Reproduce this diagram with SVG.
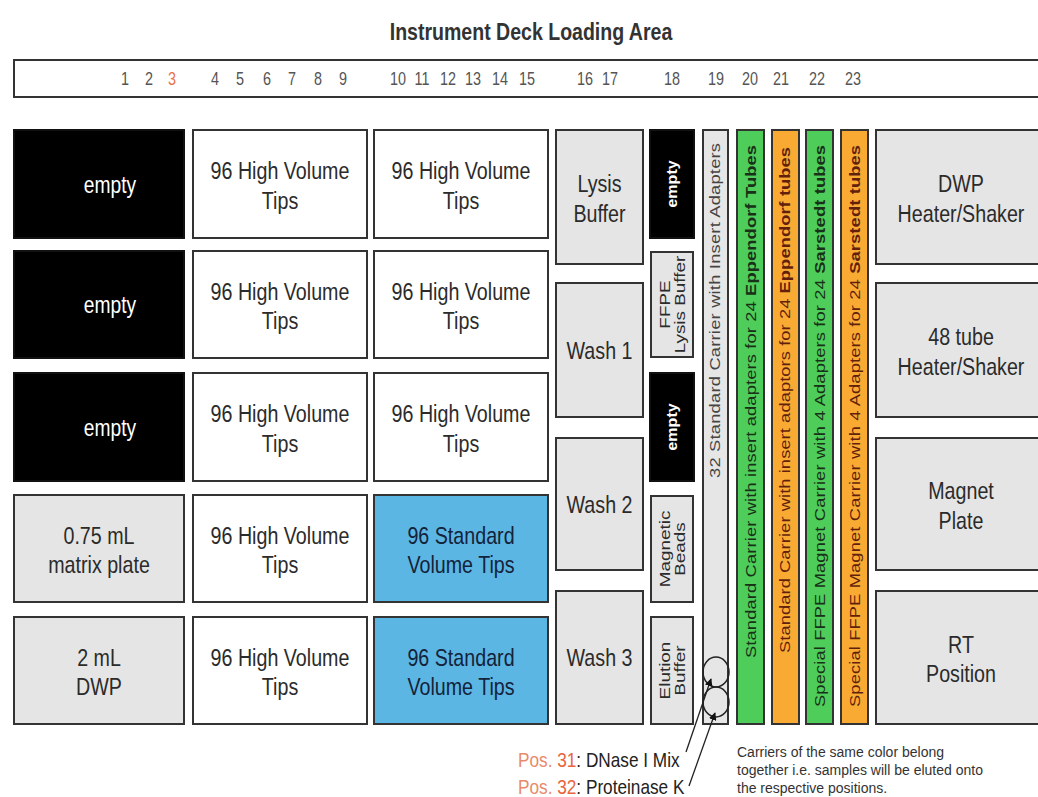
<svg xmlns="http://www.w3.org/2000/svg" width="1038" height="797" viewBox="0 0 1038 797">
<defs>
<style>
.box{stroke:#333;stroke-width:2}
.g{fill:#e5e5e5}.w{fill:#fff}.k{fill:#000;stroke:#111}.b{fill:#5cb6e4}.gr{fill:#4fcd5a}.or{fill:#f9aa33}.lg{fill:#e6e6e6}
.t{font-family:"Liberation Sans",Arial,sans-serif;font-size:24px;fill:#2b2b2b;text-anchor:middle}
.tw{fill:#fff}
.tb{fill:#14233a}
.v{font-family:"Liberation Sans",Arial,sans-serif;font-size:14px;fill:#2b2b2b;text-anchor:middle}
.vw{fill:#fff;font-weight:bold}
.vl{font-family:"Liberation Sans",Arial,sans-serif;font-size:15px;fill:#333}
.vg{fill:#183018}.vo{fill:#621f0c}
.num{font-family:"Liberation Sans",Arial,sans-serif;font-size:18px;fill:#555;text-anchor:middle}
.note{font-family:"Liberation Sans",Arial,sans-serif;font-size:14px;fill:#333}
.pos{font-family:"Liberation Sans",Arial,sans-serif;font-size:21px;fill:#222}
.ln{stroke:#222;stroke-width:1.3;fill:none}
</style>
<marker id="ah" viewBox="0 0 10 10" refX="9" refY="5" markerWidth="6" markerHeight="6" orient="auto"><path d="M0,0 L10,5 L0,10 z" fill="#111"/></marker>
</defs>
<rect width="1038" height="797" fill="#fff"/>
<text transform="translate(531,40) scale(.85 1)" style="font-family:'Liberation Sans',Arial,sans-serif;font-size:23px;font-weight:bold;fill:#333;text-anchor:middle">Instrument Deck Loading Area</text>
<g id="positions">
<rect x="14" y="60" width="1040" height="37" fill="#fff" stroke="#333" stroke-width="2"/>
<g class="num">
<text transform="translate(125,85) scale(.8 1)">1</text>
<text transform="translate(149,85) scale(.8 1)">2</text>
<text transform="translate(172,85) scale(.8 1)" style="fill:#e8734a">3</text>
<text transform="translate(215,85) scale(.8 1)">4</text>
<text transform="translate(240,85) scale(.8 1)">5</text>
<text transform="translate(267,85) scale(.8 1)">6</text>
<text transform="translate(292,85) scale(.8 1)">7</text>
<text transform="translate(318,85) scale(.8 1)">8</text>
<text transform="translate(343,85) scale(.8 1)">9</text>
<text transform="translate(398,85) scale(.8 1)">10</text>
<text transform="translate(422,85) scale(.8 1)">11</text>
<text transform="translate(448,85) scale(.8 1)">12</text>
<text transform="translate(473,85) scale(.8 1)">13</text>
<text transform="translate(500,85) scale(.8 1)">14</text>
<text transform="translate(527,85) scale(.8 1)">15</text>
<text transform="translate(585,85) scale(.8 1)">16</text>
<text transform="translate(610,85) scale(.8 1)">17</text>
<text transform="translate(672,85) scale(.8 1)">18</text>
<text transform="translate(716,85) scale(.8 1)">19</text>
<text transform="translate(750,85) scale(.8 1)">20</text>
<text transform="translate(781,85) scale(.8 1)">21</text>
<text transform="translate(817,85) scale(.8 1)">22</text>
<text transform="translate(853,85) scale(.8 1)">23</text>
</g>
</g>

<!-- Column A -->
<g id="a1"><rect class="box k" x="14" y="130" width="170" height="108"/><text class="t tw" transform="translate(110,192.5) scale(.8 1)">empty</text></g>
<g id="a2"><rect class="box k" x="14" y="251" width="170" height="107"/><text class="t tw" transform="translate(110,313) scale(.8 1)">empty</text></g>
<g id="a3"><rect class="box k" x="14" y="373" width="170" height="108"/><text class="t tw" transform="translate(110,435.5) scale(.8 1)">empty</text></g>
<g id="a4"><rect class="box g" x="14" y="495" width="170" height="107"/><text class="t" transform="translate(99,548.5) scale(.82 1)"><tspan x="0" y="-5">0.75 mL</tspan><tspan x="0" y="25">matrix plate</tspan></text></g>
<g id="a5"><rect class="box g" x="14" y="617" width="170" height="107"/><text class="t" transform="translate(99,670.5) scale(.82 1)"><tspan x="0" y="-5">2 mL</tspan><tspan x="0" y="25">DWP</tspan></text></g>

<!-- Column B -->
<g id="b1"><rect class="box w" x="193" y="130" width="174" height="108"/><text class="t" transform="translate(280,184) scale(.82 1)"><tspan x="0" y="-5">96 High Volume</tspan><tspan x="0" y="25">Tips</tspan></text></g>
<g id="b2"><rect class="box w" x="193" y="251" width="174" height="107"/><text class="t" transform="translate(280,304.5) scale(.82 1)"><tspan x="0" y="-5">96 High Volume</tspan><tspan x="0" y="25">Tips</tspan></text></g>
<g id="b3"><rect class="box w" x="193" y="373" width="174" height="108"/><text class="t" transform="translate(280,427) scale(.82 1)"><tspan x="0" y="-5">96 High Volume</tspan><tspan x="0" y="25">Tips</tspan></text></g>
<g id="b4"><rect class="box w" x="193" y="495" width="174" height="107"/><text class="t" transform="translate(280,548.5) scale(.82 1)"><tspan x="0" y="-5">96 High Volume</tspan><tspan x="0" y="25">Tips</tspan></text></g>
<g id="b5"><rect class="box w" x="193" y="617" width="174" height="107"/><text class="t" transform="translate(280,670.5) scale(.82 1)"><tspan x="0" y="-5">96 High Volume</tspan><tspan x="0" y="25">Tips</tspan></text></g>

<!-- Column C -->
<g id="c1"><rect class="box w" x="374" y="130" width="174" height="108"/><text class="t" transform="translate(461,184) scale(.82 1)"><tspan x="0" y="-5">96 High Volume</tspan><tspan x="0" y="25">Tips</tspan></text></g>
<g id="c2"><rect class="box w" x="374" y="251" width="174" height="107"/><text class="t" transform="translate(461,304.5) scale(.82 1)"><tspan x="0" y="-5">96 High Volume</tspan><tspan x="0" y="25">Tips</tspan></text></g>
<g id="c3"><rect class="box w" x="374" y="373" width="174" height="108"/><text class="t" transform="translate(461,427) scale(.82 1)"><tspan x="0" y="-5">96 High Volume</tspan><tspan x="0" y="25">Tips</tspan></text></g>
<g id="c4"><rect class="box b" x="374" y="495" width="174" height="107"/><text class="t tb" transform="translate(461,548.5) scale(.82 1)"><tspan x="0" y="-5">96 Standard</tspan><tspan x="0" y="25">Volume Tips</tspan></text></g>
<g id="c5"><rect class="box b" x="374" y="617" width="174" height="107"/><text class="t tb" transform="translate(461,670.5) scale(.82 1)"><tspan x="0" y="-5">96 Standard</tspan><tspan x="0" y="25">Volume Tips</tspan></text></g>

<!-- Column D (16-17) -->
<g id="lysis"><rect class="box g" x="556" y="130" width="87" height="134"/><text class="t" transform="translate(599.5,197) scale(.82 1)"><tspan x="0" y="-5">Lysis</tspan><tspan x="0" y="25">Buffer</tspan></text></g>
<g id="wash1"><rect class="box g" x="556" y="283" width="87" height="134"/><text class="t" transform="translate(599.5,358.5) scale(.82 1)">Wash 1</text></g>
<g id="wash2"><rect class="box g" x="556" y="438" width="87" height="132"/><text class="t" transform="translate(599.5,512.5) scale(.82 1)">Wash 2</text></g>
<g id="wash3"><rect class="box g" x="556" y="591" width="87" height="133"/><text class="t" transform="translate(599.5,666) scale(.82 1)">Wash 3</text></g>

<!-- Column E (18) -->
<g id="e1"><rect class="box k" x="650" y="130" width="44" height="108"/><text class="v vw" transform="translate(677,184) rotate(-90) scale(1.15 1)">empty</text></g>
<g id="e2"><rect class="box g" x="651" y="252" width="42" height="105"/><text class="v" transform="translate(672,304.5) rotate(-90) scale(1.35 1)"><tspan x="0" y="-2">FFPE</tspan><tspan x="0" y="13">Lysis Buffer</tspan></text></g>
<g id="e3"><rect class="box k" x="650" y="373" width="44" height="108"/><text class="v vw" transform="translate(677,427) rotate(-90) scale(1.15 1)">empty</text></g>
<g id="e4"><rect class="box g" x="651" y="496" width="42" height="106"/><text class="v" transform="translate(672,549) rotate(-90) scale(1.35 1)"><tspan x="0" y="-2">Magnetic</tspan><tspan x="0" y="13">Beads</tspan></text></g>
<g id="e5"><rect class="box g" x="651" y="617" width="42" height="107"/><text class="v" transform="translate(672,670.5) rotate(-90) scale(1.35 1)"><tspan x="0" y="-2">Elution</tspan><tspan x="0" y="13">Buffer</tspan></text></g>

<!-- Column 19 -->
<g id="p19"><rect class="box lg" x="703" y="130" width="25" height="594"/>
<text class="vl" style="fill:#444" transform="translate(720,478) rotate(-90) scale(1.22 1)" textLength="274.6" lengthAdjust="spacing">32 Standard Carrier with Insert Adapters</text>
<ellipse cx="716" cy="672" rx="13" ry="15" fill="none" stroke="#222" stroke-width="1.5"/>
<ellipse cx="716" cy="702" rx="13" ry="15" fill="none" stroke="#222" stroke-width="1.5"/>
</g>
<!-- Column 20-23 -->
<g id="p20"><rect class="box gr" x="737" y="130" width="27" height="594"/>
<text class="vl vg" transform="translate(755.5,658) rotate(-90) scale(1.22 1)" textLength="420.5" lengthAdjust="spacing">Standard Carrier with insert adapters for 24 <tspan font-weight="bold">Eppendorf Tubes</tspan></text></g>
<g id="p21"><rect class="box or" x="772" y="130" width="27" height="594"/>
<text class="vl vo" transform="translate(790,653) rotate(-90) scale(1.22 1)" textLength="414.8" lengthAdjust="spacing">Standard Carrier with insert adaptors for 24 <tspan font-weight="bold">Eppendorf tubes</tspan></text></g>
<g id="p22"><rect class="box gr" x="806" y="130" width="27" height="594"/>
<text class="vl vg" transform="translate(824.5,707) rotate(-90) scale(1.22 1)" textLength="460.7" lengthAdjust="spacing">Special FFPE Magnet Carrier with 4 Adapters for 24 <tspan font-weight="bold">Sarstedt tubes</tspan></text></g>
<g id="p23"><rect class="box or" x="841" y="130" width="27" height="594"/>
<text class="vl vo" transform="translate(859.5,707) rotate(-90) scale(1.22 1)" textLength="460.7" lengthAdjust="spacing">Special FFPE Magnet Carrier with 4 Adapters for 24 <tspan font-weight="bold">Sarstedt tubes</tspan></text></g>

<!-- Column F -->
<g id="f1"><rect class="box g" x="876" y="130" width="180" height="134"/><text class="t" transform="translate(961,197) scale(.82 1)"><tspan x="0" y="-5">DWP</tspan><tspan x="0" y="25">Heater/Shaker</tspan></text></g>
<g id="f2"><rect class="box g" x="876" y="283" width="180" height="134"/><text class="t" transform="translate(961,350) scale(.82 1)"><tspan x="0" y="-5">48 tube</tspan><tspan x="0" y="25">Heater/Shaker</tspan></text></g>
<g id="f3"><rect class="box g" x="876" y="438" width="180" height="132"/><text class="t" transform="translate(961,504) scale(.82 1)"><tspan x="0" y="-5">Magnet</tspan><tspan x="0" y="25">Plate</tspan></text></g>
<g id="f4"><rect class="box g" x="876" y="591" width="180" height="133"/><text class="t" transform="translate(961,657.5) scale(.82 1)"><tspan x="0" y="-5">RT</tspan><tspan x="0" y="25">Position</tspan></text></g>

<!-- Connectors -->
<g id="connectors">
<line class="ln" x1="686" y1="752" x2="711" y2="679" marker-end="url(#ah)"/>
<line class="ln" x1="689" y1="786" x2="715" y2="713" marker-end="url(#ah)"/>
</g>

<!-- Labels -->
<g id="pos-labels">
<text class="pos" transform="translate(518,767) scale(.82 1)"><tspan fill="#e98a6a">Pos. </tspan><tspan fill="#e8643e">31</tspan>: DNase I Mix</text>
<text class="pos" transform="translate(518,794) scale(.82 1)"><tspan fill="#e98a6a">Pos. </tspan><tspan fill="#e8643e">32</tspan>: Proteinase K</text>
</g>
<g id="note">
<text class="note" x="737" y="757">Carriers of the same color belong</text>
<text class="note" x="737" y="775">together i.e. samples will be eluted onto</text>
<text class="note" x="737" y="793">the respective positions.</text>
</g>
</svg>
